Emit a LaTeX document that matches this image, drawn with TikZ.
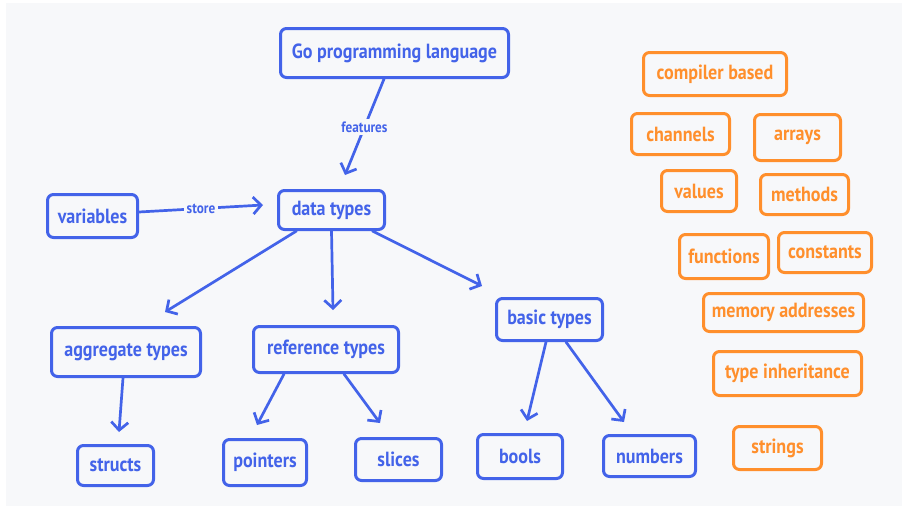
\documentclass[tikz,border=0pt]{standalone}
\usepackage{fontspec}
\setmainfont{PT Sans}[FakeStretch=0.88]
\usetikzlibrary{arrows.meta}
\definecolor{panel}{HTML}{F7F8FA}
\definecolor{inkblue}{HTML}{4363E9}
\definecolor{inkorange}{HTML}{FF8F2C}
\tikzset{
  box/.style={draw, rounded corners=6pt, line width=3pt, inner sep=0pt,
    font=\fontsize{20.5}{22}\selectfont\bfseries},
  bluebox/.style={box, draw=inkblue, text=inkblue},
  orangebox/.style={box, draw=inkorange, text=inkorange},
  link/.style={draw=inkblue, line width=2.7pt, line cap=round,
    -{Straight Barb[length=8pt,width=17pt,line width=2.7pt]}},
  linklabel/.style={fill=panel, text=inkblue, inner sep=3pt,
    font=\fontsize{15}{16}\selectfont\bfseries}
}
\begin{document}
\begin{tikzpicture}[x=1pt,y=-1pt]
  % canvas and panel
  \fill[white] (0,0) rectangle (902,506);
  \fill[panel] (6,3) rectangle (902,506);
  \useasboundingbox (0,0) rectangle (902,506);

  % concept nodes
  \node[bluebox, minimum width=228pt, minimum height=49pt] (go) at (394.5,53) {Go programming language};
  \node[bluebox, minimum width=106pt, minimum height=39pt] (dt) at (331.5,210) {data types};
  \node[bluebox, minimum width=90pt, minimum height=43pt] (var) at (92.5,216) {variables};
  \node[bluebox, minimum width=149pt, minimum height=49pt] (agg) at (126,352) {aggregate types};
  \node[bluebox, minimum width=145pt, minimum height=46pt] (ref) at (326,349.5) {reference types};
  \node[bluebox, minimum width=106pt, minimum height=42pt] (basic) at (549.5,319.5) {basic types};
  \node[bluebox, minimum width=76pt, minimum height=40pt] (structs) at (115.5,465.5) {structs};
  \node[bluebox, minimum width=83pt, minimum height=46pt] (pointers) at (265,462.5) {pointers};
  \node[bluebox, minimum width=86pt, minimum height=42pt] (slices) at (398.5,459.5) {slices};
  \node[bluebox, minimum width=85pt, minimum height=44pt] (bools) at (520,456.5) {bools};
  \node[bluebox, minimum width=92pt, minimum height=41pt] (numbers) at (649.5,456) {numbers};

  % loose feature terms
  \node[orangebox, minimum width=143pt, minimum height=43pt] (compiler) at (715,74) {compiler based};
  \node[orangebox, minimum width=98pt, minimum height=41pt] (channels) at (680.5,134) {channels};
  \node[orangebox, minimum width=86pt, minimum height=46pt] (arrays) at (797.5,137.5) {arrays};
  \node[orangebox, minimum width=75pt, minimum height=41pt] (values) at (699,191) {values};
  \node[orangebox, minimum width=88pt, minimum height=40pt] (methods) at (804.5,194.5) {methods};
  \node[orangebox, minimum width=89pt, minimum height=44pt] (functions) at (724,256.5) {functions};
  \node[orangebox, minimum width=93pt, minimum height=40pt] (constants) at (825,252.5) {constants};
  \node[orangebox, minimum width=160pt, minimum height=38pt] (memory) at (783.5,312.5) {memory addresses};
  \node[orangebox, minimum width=148pt, minimum height=44pt] (inherit) at (787.5,373.5) {type inheritance};
  \node[orangebox, minimum width=88pt, minimum height=43pt] (strings) at (777.5,448) {strings};

  % labelled links
  \draw[link] ([xshift=-10.5pt]go.south) -- node[linklabel] {features} ([xshift=13.5pt,yshift=14pt]dt.north);
  \draw[link] ([yshift=4pt]var.east) -- node[linklabel, pos=0.5] {store} ([xshift=-14pt,yshift=5pt]dt.west);

  % hierarchy links
  \draw[link] ([xshift=-35pt]dt.south) -- ([xshift=39pt,yshift=14pt]agg.north);
  \draw[link] (dt.south) -- ([xshift=7pt,yshift=15pt]ref.north);
  \draw[link] ([xshift=41pt]dt.south) -- ([xshift=-13pt,yshift=11pt]basic.north west);
  \draw[link] ([xshift=-3pt]agg.south) -- ([xshift=3.5pt,yshift=12pt]structs.north);
  \draw[link] ([xshift=-42pt]ref.south) -- ([xshift=-8pt,yshift=13pt]pointers.north);
  \draw[link] ([xshift=18pt]ref.south) -- ([xshift=-18.5pt,yshift=14pt]slices.north);
  \draw[link] ([xshift=-3.5pt]basic.south) -- ([xshift=7pt,yshift=12pt]bools.north);
  \draw[link] ([xshift=16.5pt]basic.south) -- ([xshift=-25.5pt,yshift=12pt]numbers.north);
\end{tikzpicture}
\end{document}
